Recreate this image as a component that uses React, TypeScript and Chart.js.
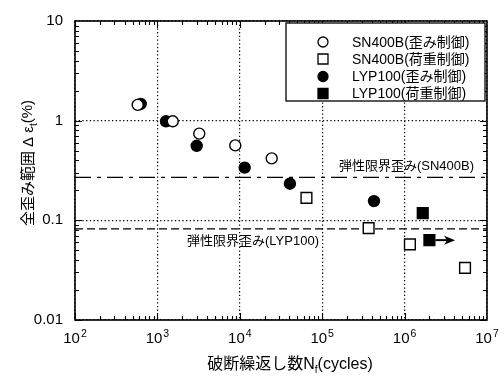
import React, { useEffect, useRef } from "react";
import { Chart, registerables } from "chart.js";

Chart.register(...registerables);

// Fatigue test results: cycles to failure N_f vs. total strain range Δε_t (%)
const sn400bStrainN = [577, 1535, 3220, 8810, 24400];
const sn400bStrainE = [1.44, 0.985, 0.741, 0.565, 0.418];
const sn400bLoadN = [64400, 366000, 1160000, 5410000];
const sn400bLoadE = [0.168, 0.0836, 0.0573, 0.0333];
const lyp100StrainN = [627, 1271, 2999, 11460, 40600, 425000];
const lyp100StrainE = [1.47, 0.985, 0.56, 0.338, 0.233, 0.156];
const lyp100LoadN = [1660000, 2000000];
const lyp100LoadE = [0.118, 0.0633];

// run-out specimen (no failure): arrow towards higher cycle counts
const runoutFromN = 2000000;
const runoutToN = 4100000;
const runoutE = 0.0633;

// elastic limit strains
const elasticSN400B = 0.27;
const elasticLYP100 = 0.082;

const seriesLabels = [
  "SN400B(歪み制御)",
  "SN400B(荷重制御)",
  "LYP100(歪み制御)",
  "LYP100(荷重制御)",
];
const elasticLabels = ["弾性限界歪み(SN400B)", "弾性限界歪み(LYP100)"];

const xTickValues = [1e2, 1e3, 1e4, 1e5, 1e6, 1e7];
const xTickExponents = ["2", "3", "4", "5", "6", "7"];
const yTickValues = [0.01, 0.1, 1, 10];
const yTickLabels = ["0.01", "0.1", "1", "10"];

const xRange = [1e2, 1e7];
const yRange = [0.01, 10];

const FONT = '"Liberation Sans", Arial, "Noto Sans CJK JP", sans-serif';

const toPoints = (xs: number[], ys: number[]) => xs.map((x, i) => ({ x, y: ys[i] }));

const markerStyles = [
  { pointStyle: "circle", fill: "#fff", radius: 5.5 },
  { pointStyle: "rect", fill: "#fff", radius: 7.6 },
  { pointStyle: "circle", fill: "#000", radius: 5.5 },
  { pointStyle: "rect", fill: "#000", radius: 7.6 },
];

const decor = {
  id: "decor",
  afterDatasetsDraw(chart: any) {
    const { ctx, chartArea: a, scales } = chart;
    const xs = scales.x;
    const ys = scales.y;
    ctx.save();
    ctx.fillStyle = "#000";
    ctx.strokeStyle = "#000";

    // run-out arrow
    const ay = ys.getPixelForValue(runoutE);
    const ax0 = xs.getPixelForValue(runoutFromN) + 6;
    const ax1 = xs.getPixelForValue(runoutToN);
    ctx.lineWidth = 2;
    ctx.beginPath();
    ctx.moveTo(ax0, ay);
    ctx.lineTo(ax1 - 6, ay);
    ctx.stroke();
    ctx.beginPath();
    ctx.moveTo(ax1, ay);
    ctx.lineTo(ax1 - 11, ay - 4.5);
    ctx.lineTo(ax1 - 8, ay);
    ctx.lineTo(ax1 - 11, ay + 4.5);
    ctx.closePath();
    ctx.fill();

    // elastic limit labels
    ctx.font = `13px ${FONT}`;
    ctx.textBaseline = "middle";
    ctx.textAlign = "right";
    ctx.fillText(elasticLabels[0], a.right - 13, ys.getPixelForValue(elasticSN400B) - 11);
    ctx.textAlign = "left";
    ctx.fillText(elasticLabels[1], a.left + 112, ys.getPixelForValue(elasticLYP100) + 12);
    ctx.restore();
  },
  afterDraw(chart: any) {
    const { ctx, chartArea: a, scales } = chart;
    const xs = scales.x;
    const ys = scales.y;
    ctx.save();
    ctx.fillStyle = "#000";
    ctx.strokeStyle = "#000";

    // frame
    ctx.lineWidth = 1.6;
    ctx.strokeRect(a.left, a.top, a.right - a.left, a.bottom - a.top);

    // inward tick marks, major and minor, on all four sides
    ctx.lineWidth = 1.1;
    ctx.beginPath();
    for (let e = 2; e <= 6; e++) {
      for (let k = 1; k <= 9; k++) {
        const px = Math.round(xs.getPixelForValue(k * Math.pow(10, e))) + 0.5;
        const len = k === 1 ? 7 : 4;
        ctx.moveTo(px, a.bottom);
        ctx.lineTo(px, a.bottom - len);
        ctx.moveTo(px, a.top);
        ctx.lineTo(px, a.top + len);
      }
    }
    for (let e = -2; e <= 0; e++) {
      for (let k = 1; k <= 9; k++) {
        const py = Math.round(ys.getPixelForValue(k * Math.pow(10, e))) + 0.5;
        const len = k === 1 ? 7 : 4;
        ctx.moveTo(a.left, py);
        ctx.lineTo(a.left + len, py);
        ctx.moveTo(a.right, py);
        ctx.lineTo(a.right - len, py);
      }
    }
    ctx.stroke();

    // x tick labels: 10 with superscript exponent
    ctx.textBaseline = "alphabetic";
    ctx.textAlign = "left";
    xTickValues.forEach((v, i) => {
      const px = xs.getPixelForValue(v);
      ctx.font = `15px ${FONT}`;
      const wb = ctx.measureText("10").width;
      ctx.font = `10.5px ${FONT}`;
      const we = ctx.measureText(xTickExponents[i]).width;
      const left = px - (wb + we + 1) / 2;
      ctx.font = `15px ${FONT}`;
      ctx.fillText("10", left, a.bottom + 23);
      ctx.font = `10.5px ${FONT}`;
      ctx.fillText(xTickExponents[i], left + wb + 1, a.bottom + 17);
    });

    // x axis title with subscript
    const xParts = [
      { t: "破断繰返し数N", f: `16px ${FONT}`, dy: 0 },
      { t: "f", f: `10px ${FONT}`, dy: 4 },
      { t: "(cycles)", f: `16px ${FONT}`, dy: 0 },
    ];
    let total = 0;
    xParts.forEach((p) => {
      ctx.font = p.f;
      total += ctx.measureText(p.t).width;
    });
    let cx = (a.left + a.right) / 2 + 9 - total / 2;
    xParts.forEach((p) => {
      ctx.font = p.f;
      ctx.fillText(p.t, cx, 369 + p.dy);
      cx += ctx.measureText(p.t).width;
    });

    // y axis title, rotated, with subscript
    const yParts = [
      { t: "全歪み範囲 Δ ε", f: `15px ${FONT}`, dy: 0 },
      { t: "t", f: `10px ${FONT}`, dy: 4 },
      { t: "(%)", f: `15px ${FONT}`, dy: -1 },
    ];
    ctx.save();
    ctx.translate(33, 163);
    ctx.rotate(-Math.PI / 2);
    total = 0;
    yParts.forEach((p) => {
      ctx.font = p.f;
      total += ctx.measureText(p.t).width;
    });
    cx = -total / 2;
    yParts.forEach((p) => {
      ctx.font = p.f;
      ctx.fillText(p.t, cx, p.dy);
      cx += ctx.measureText(p.t).width;
    });
    ctx.restore();

    // legend box inside the plot
    const bx = 286;
    const by = 23;
    const bw = 199;
    const bh = 78;
    ctx.fillStyle = "#fff";
    ctx.fillRect(bx, by, bw, bh);
    ctx.lineWidth = 1.3;
    ctx.strokeRect(bx, by, bw, bh);
    const rows = [42, 59, 76.5, 93.5];
    ctx.font = `14px ${FONT}`;
    ctx.textBaseline = "middle";
    seriesLabels.forEach((label, i) => {
      const m = markerStyles[i];
      const sx = 323;
      const sy = rows[i];
      ctx.lineWidth = 1.3;
      ctx.strokeStyle = "#000";
      ctx.fillStyle = m.fill;
      ctx.beginPath();
      if (m.pointStyle === "circle") {
        ctx.arc(sx, sy, 5, 0, Math.PI * 2);
      } else {
        ctx.rect(sx - 5, sy - 5, 10, 10);
      }
      ctx.fill();
      ctx.stroke();
      ctx.fillStyle = "#000";
      ctx.fillText(label, 352, sy + 1);
    });

    ctx.restore();
  },
};

export default function App() {
  const canvasRef = useRef<HTMLCanvasElement | null>(null);

  useEffect(() => {
    const canvas = canvasRef.current;
    if (!canvas) return;

    const seriesData = [
      toPoints(sn400bStrainN, sn400bStrainE),
      toPoints(sn400bLoadN, sn400bLoadE),
      toPoints(lyp100StrainN, lyp100StrainE),
      toPoints(lyp100LoadN, lyp100LoadE),
    ];

    const markerSets = seriesData.map((data, i) => ({
      label: seriesLabels[i],
      data,
      pointStyle: markerStyles[i].pointStyle,
      pointRadius: markerStyles[i].radius,
      pointBackgroundColor: markerStyles[i].fill,
      pointBorderColor: "#000",
      pointBorderWidth: 1.4,
      showLine: false,
      order: 0,
    }));

    const limitSets = [
      {
        label: elasticLabels[0],
        data: [
          { x: xRange[0], y: elasticSN400B },
          { x: xRange[1], y: elasticSN400B },
        ],
        borderDash: [16, 6, 4, 6],
      },
      {
        label: elasticLabels[1],
        data: [
          { x: xRange[0], y: elasticLYP100 },
          { x: xRange[1], y: elasticLYP100 },
        ],
        borderDash: [8, 4],
      },
    ].map((d) => ({
      ...d,
      showLine: true,
      pointRadius: 0,
      borderColor: "#000",
      borderWidth: 1.3,
      order: 1,
    }));

    const gridOpts = { color: "#000", lineWidth: 1.2, drawTicks: false };
    const borderOpts = { display: false, dash: [1.3, 2.4] };

    const chart = new Chart(canvas, {
      type: "scatter",
      data: { datasets: [...markerSets, ...limitSets] as any },
      options: {
        animation: false,
        responsive: false,
        devicePixelRatio: 1,
        layout: { padding: { top: 14, right: 17, left: 0, bottom: 0 } },
        plugins: { legend: { display: false }, tooltip: { enabled: false } },
        scales: {
          x: {
            type: "logarithmic",
            min: xRange[0],
            max: xRange[1],
            afterBuildTicks: (s: any) => {
              s.ticks = xTickValues.map((value) => ({ value }));
            },
            afterFit: (s: any) => {
              s.height = 58;
            },
            ticks: { display: false },
            grid: gridOpts,
            border: borderOpts,
          },
          y: {
            type: "logarithmic",
            min: yRange[0],
            max: yRange[1],
            afterBuildTicks: (s: any) => {
              s.ticks = yTickValues.map((value) => ({ value }));
            },
            afterFit: (s: any) => {
              s.width = 75;
            },
            ticks: {
              autoSkip: false,
              padding: 12,
              color: "#000",
              font: { family: FONT, size: 15 },
              callback: (_v: any, i: number) => yTickLabels[i],
            },
            grid: gridOpts,
            border: borderOpts,
          },
        },
      } as any,
      plugins: [decor],
    });

    return () => chart.destroy();
  }, []);

  return (
    <div style={{ position: "fixed", left: 0, top: 0, width: 504, height: 378, background: "#fff" }}>
      <canvas ref={canvasRef} width={504} height={378} style={{ display: "block" }} />
    </div>
  );
}
